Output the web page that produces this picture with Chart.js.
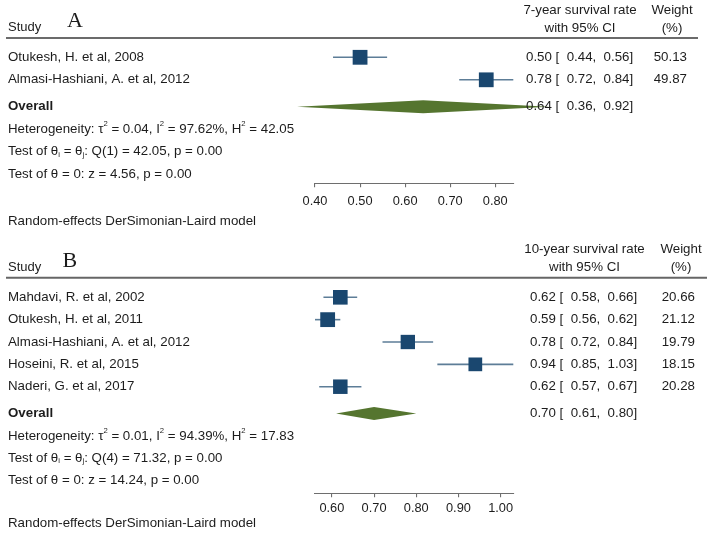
<!DOCTYPE html>
<html>
<head>
<meta charset="utf-8">
<script src="https://cdn.jsdelivr.net/npm/chart.js@4.4.1/dist/chart.umd.min.js"></script>
<style>
  body { margin: 0; background: #fff; }
  #wrap { position: relative; width: 708px; height: 537px; }
  canvas { position: absolute; left: 0; }
</style>
</head>
<body>
<div id="wrap">
  <canvas id="chart-a" width="708" height="240" style="top:0"></canvas>
  <canvas id="chart-b" width="708" height="297" style="top:240px"></canvas>
</div>
<script>
// --- Data: panel A (7-year survival) ---
const studiesA = ['Otukesh, H. et al, 2008', 'Almasi-Hashiani, A. et al, 2012'];
const rateA = [0.50, 0.78];
const lowerA = [0.44, 0.72];
const upperA = [0.56, 0.84];
const weightA = [50.13, 49.87];
const overallA = [0.64, 0.36, 0.92];   // estimate, lower, upper
const hetA = [0.04, 97.62, 42.05];     // tau2, I2, H2
const qTestA = [1, 42.05, 0.00];       // df, Q, p
const zTestA = [4.56, 0.00];           // z, p
const ticksA = [0.40, 0.50, 0.60, 0.70, 0.80];

// --- Data: panel B (10-year survival) ---
const studiesB = ['Mahdavi, R. et al, 2002', 'Otukesh, H. et al, 2011', 'Almasi-Hashiani, A. et al, 2012',
                  'Hoseini, R. et al, 2015', 'Naderi, G. et al, 2017'];
const rateB = [0.62, 0.59, 0.78, 0.94, 0.62];
const lowerB = [0.58, 0.56, 0.72, 0.85, 0.57];
const upperB = [0.66, 0.62, 0.84, 1.03, 0.67];
const weightB = [20.66, 21.12, 19.79, 18.15, 20.28];
const overallB = [0.70, 0.61, 0.80];
const hetB = [0.01, 94.39, 17.83];
const qTestB = [4, 71.32, 0.00];
const zTestB = [14.24, 0.00];
const ticksB = [0.60, 0.70, 0.80, 0.90, 1.00];

// --- Styles ---
const FONT = '"Liberation Sans", Arial, Helvetica, sans-serif';
const TEXT_SIZE = 13.3;
const TEXT_COLOR = '#1c1c1c';
const NAVY = '#1a476f';
const CI_COLOR = '#5d7d97';
const GREEN = '#55752f';
const AXIS_COLOR = '#6e6e6e';
const SQUARE_SIDE = 14.8;
const DIAMOND_HALF = 6.5;
const ROW_GAP = 0.2;

const f2 = v => v.toFixed(2);

function drawRich(ctx, x, y, parts) {
    let cx = x;
    parts.forEach(([txt, mode]) => {
        const size = mode ? TEXT_SIZE * 0.58 : TEXT_SIZE;
        ctx.font = `${size}px ${FONT}`;
        const dy = mode === 'sup' ? -TEXT_SIZE * 0.4 : mode === 'sub' ? TEXT_SIZE * 0.22 : 0;
        ctx.fillText(txt, cx, y + dy);
        cx += ctx.measureText(txt).width;
    });
}

function makeForest(canvasId, d, lay) {
    const n = d.studies.length;
    const rows = d.studies.map((_, i) => i + 1);
    const overallRow = n + 1 + ROW_GAP;
    const xMin = Math.min(d.ticks[0], ...d.lower);
    const xMax = Math.max(d.ticks[d.ticks.length - 1], ...d.upper);
    const yMin = 1 - lay.firstRow / lay.pitch;
    const yMax = yMin + (lay.axisY - lay.lineTop) / lay.pitch;
    const wMax = Math.max(...d.weight);

    const ciSets = rows.map((r, i) => ({
        type: 'line',
        data: [{ x: d.lower[i], y: r }, { x: d.upper[i], y: r }],
        borderColor: CI_COLOR,
        borderWidth: 1.6,
        pointRadius: 0,
        clip: false,
        order: 1
    }));

    const squareSet = {
        type: 'scatter',
        data: rows.map((r, i) => ({ x: d.rate[i], y: r })),
        pointStyle: 'rect',
        pointRadius: d.weight.map(w => SQUARE_SIDE * Math.sqrt(w / wMax) / (2 * Math.SQRT1_2)),
        pointBackgroundColor: NAVY,
        pointBorderWidth: 0,
        clip: false,
        order: 0
    };

    const forestPlugin = {
        id: 'forest',
        afterDatasetsDraw(chart) {
            const { ctx, scales: { x, y } } = chart;
            const yc = y.getPixelForValue(overallRow);
            ctx.save();
            ctx.fillStyle = GREEN;
            ctx.beginPath();
            ctx.moveTo(x.getPixelForValue(d.overall[1]), yc);
            ctx.lineTo(x.getPixelForValue(d.overall[0]), yc - DIAMOND_HALF);
            ctx.lineTo(x.getPixelForValue(d.overall[2]), yc);
            ctx.lineTo(x.getPixelForValue(d.overall[0]), yc + DIAMOND_HALF);
            ctx.closePath();
            ctx.fill();
            ctx.restore();
        },
        afterDraw(chart) {
            const { ctx, scales: { y } } = chart;
            ctx.save();
            ctx.fillStyle = TEXT_COLOR;
            ctx.textBaseline = 'middle';

            // header
            ctx.strokeStyle = lay.lineColor;
            ctx.lineWidth = lay.lineWidth;
            ctx.beginPath();
            ctx.moveTo(6, lay.lineTop);
            ctx.lineTo(lay.lineRight, lay.lineTop);
            ctx.stroke();

            ctx.font = `13px ${FONT}`;
            ctx.textAlign = 'left';
            ctx.fillText('Study', 8, lay.studyY);
            ctx.font = `22px "Liberation Serif", "Times New Roman", serif`;
            ctx.fillText(d.letter, lay.letterX, lay.letterY);

            ctx.font = `${TEXT_SIZE}px ${FONT}`;
            ctx.textAlign = 'center';
            ctx.fillText(d.header, lay.headX, lay.headY1);
            ctx.fillText('with 95% CI', lay.headX, lay.headY2);
            ctx.fillText('Weight', lay.weightX, lay.headY1);
            ctx.fillText('(%)', lay.weightX, lay.headY2);

            // study rows
            rows.forEach((r, i) => {
                const py = y.getPixelForValue(r);
                ctx.textAlign = 'left';
                ctx.fillText(d.studies[i], 8, py);
                ctx.fillText(`${f2(d.rate[i])} [  ${f2(d.lower[i])},  ${f2(d.upper[i])}]`, lay.ciX, py);
                ctx.textAlign = 'right';
                ctx.fillText(f2(d.weight[i]), lay.weightRight, py);
            });

            // overall + statistics
            const oy = y.getPixelForValue(overallRow);
            ctx.textAlign = 'left';
            ctx.font = `bold ${TEXT_SIZE}px ${FONT}`;
            ctx.fillText('Overall', 8, oy);
            ctx.font = `${TEXT_SIZE}px ${FONT}`;
            ctx.fillText(`${f2(d.overall[0])} [  ${f2(d.overall[1])},  ${f2(d.overall[2])}]`, lay.ciX, oy);

            drawRich(ctx, 8, y.getPixelForValue(overallRow + 1), [
                ['Heterogeneity: τ'], ['2', 'sup'], [` = ${f2(d.het[0])}, I`], ['2', 'sup'],
                [` = ${f2(d.het[1])}%, H`], ['2', 'sup'], [` = ${f2(d.het[2])}`]
            ]);
            drawRich(ctx, 8, y.getPixelForValue(overallRow + 2), [
                ['Test of θ'], ['i', 'sub'], [' = θ'], ['j', 'sub'],
                [`: Q(${d.qTest[0]}) = ${f2(d.qTest[1])}, p = ${f2(d.qTest[2])}`]
            ]);
            drawRich(ctx, 8, y.getPixelForValue(overallRow + 3), [
                [`Test of θ = 0: z = ${f2(d.zTest[0])}, p = ${f2(d.zTest[1])}`]
            ]);

            ctx.font = `${TEXT_SIZE}px ${FONT}`;
            ctx.fillText('Random-effects DerSimonian-Laird model', 8, lay.modelY);
            ctx.restore();
        }
    };

    return new Chart(document.getElementById(canvasId), {
        data: { datasets: [squareSet, ...ciSets] },
        options: {
            responsive: false,
            animation: false,
            events: [],
            layout: {
                padding: {
                    left: 315,
                    right: 708 - 513.3,
                    top: lay.lineTop,
                    bottom: lay.height - lay.axisY - 26
                }
            },
            plugins: { legend: { display: false }, tooltip: { enabled: false } },
            scales: {
                x: {
                    type: 'linear',
                    min: xMin,
                    max: xMax,
                    afterBuildTicks: s => { s.ticks = d.ticks.map(v => ({ value: v })); },
                    afterFit: s => { s.height = 26; },
                    ticks: {
                        callback: v => f2(v),
                        font: { family: FONT, size: 12.8 },
                        color: TEXT_COLOR,
                        padding: lay.tickPad,
                        maxRotation: 0,
                        autoSkip: false
                    },
                    grid: { drawOnChartArea: false, drawTicks: true, tickLength: 4, color: AXIS_COLOR, lineWidth: 1.1 },
                    border: { display: true, color: AXIS_COLOR, width: 1.1 }
                },
                y: { type: 'linear', display: false, reverse: true, min: yMin, max: yMax }
            }
        },
        plugins: [forestPlugin]
    });
}

document.addEventListener('DOMContentLoaded', () => {
    makeForest('chart-a', {
        letter: 'A', header: '7-year survival rate',
        studies: studiesA, rate: rateA, lower: lowerA, upper: upperA, weight: weightA,
        overall: overallA, het: hetA, qTest: qTestA, zTest: zTestA, ticks: ticksA
    }, {
        height: 240, lineTop: 38, axisY: 183.3, firstRow: 19.3, pitch: 22.5, tickPad: 6,
        lineRight: 698, lineColor: '#3a3a3a', lineWidth: 1.3,
        studyY: 27, letterX: 67, letterY: 21, headX: 580, headY1: 10, headY2: 28,
        weightX: 672, ciX: 526, weightRight: 687, modelY: 221
    });

    makeForest('chart-b', {
        letter: 'B', header: '10-year survival rate',
        studies: studiesB, rate: rateB, lower: lowerB, upper: upperB, weight: weightB,
        overall: overallB, het: hetB, qTest: qTestB, zTest: zTestB, ticks: ticksB
    }, {
        height: 297, lineTop: 37.7, axisY: 253.3, firstRow: 19.6, pitch: 22.35, tickPad: 3,
        lineRight: 707, lineColor: '#666', lineWidth: 2,
        studyY: 27.7, letterX: 62.5, letterY: 21.5, headX: 584.5, headY1: 9, headY2: 27,
        weightX: 681, ciX: 530, weightRight: 695, modelY: 283.3
    });
});
</script>
</body>
</html>
